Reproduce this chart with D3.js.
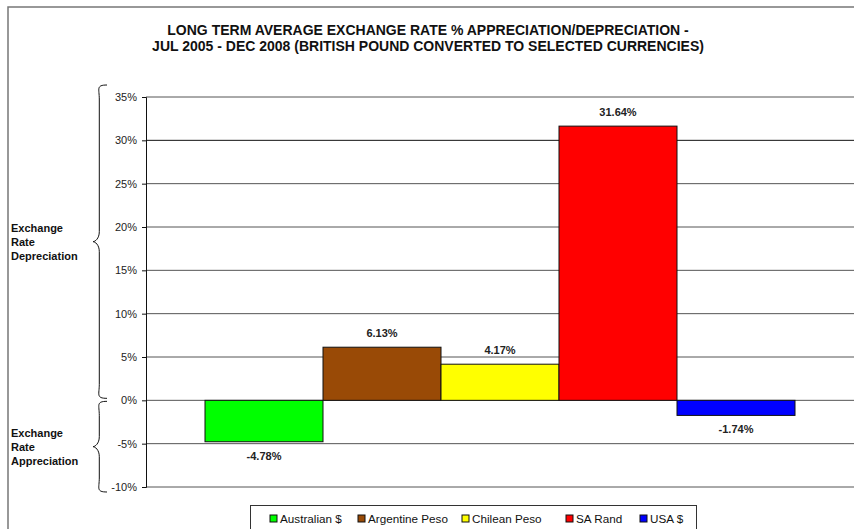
<!DOCTYPE html>
<html>
<head>
    <script src="https://d3js.org/d3.v7.min.js"></script>
</head>
<body style="margin: 0; padding: 0; background: #fff;">
    <div id="container"></div>
    <script>
        // Dados
        var currencies = ["Australian $", "Argentine Peso", "Chilean Peso", "SA Rand", "USA $"];
        var changes = [-4.78, 6.13, 4.17, 31.64, -1.74];
        var barColors = ["#00ff00", "#994a06", "#ffff00", "#ff0000", "#0000ff"];
        var yTicks = [-10, -5, 0, 5, 10, 15, 20, 25, 30, 35];
        var titleLines = [
            "LONG TERM AVERAGE EXCHANGE RATE % APPRECIATION/DEPRECIATION -",
            "JUL 2005 - DEC 2008 (BRITISH POUND CONVERTED TO SELECTED CURRENCIES)"
        ];
        var sideNotes = [
            { lines: ["Exchange", "Rate", "Depreciation"], from: 0, to: 35 },
            { lines: ["Exchange", "Rate", "Appreciation"], from: -10, to: 0 }
        ];

        var width = 854, height = 529;
        var font = "'Liberation Sans', Arial, sans-serif";

        var svg = d3.select("#container").append("svg")
            .attr("width", width)
            .attr("height", height)
            .style("font-family", font);

        // moldura externa (cortada na imagem)
        svg.append("rect")
            .attr("x", 8).attr("y", 7)
            .attr("width", 900).attr("height", 600)
            .attr("fill", "none")
            .attr("stroke", "#777")
            .attr("stroke-width", 1.5);

        var plot = { left: 146, right: 854, top: 97, bottom: 487 };

        var x = d3.scaleBand()
            .domain(currencies)
            .range([plot.left, plot.right])
            .paddingInner(0)
            .paddingOuter(0.5);

        var y = d3.scaleLinear()
            .domain([-10, 35])
            .range([plot.bottom, plot.top]);

        // titulo
        svg.append("g").selectAll("text")
            .data(titleLines)
            .enter().append("text")
            .attr("x", 428)
            .attr("y", (d, i) => 35 + i * 16)
            .attr("text-anchor", "middle")
            .style("font-size", "14px")
            .style("font-weight", "bold")
            .style("fill", "#111")
            .text(d => d);

        // linhas de grade
        svg.append("g").selectAll("line")
            .data(yTicks)
            .enter().append("line")
            .attr("x1", plot.left).attr("x2", plot.right)
            .attr("y1", d => y(d)).attr("y2", d => y(d))
            .attr("stroke", d => d === 30 ? "#111" : "#555")
            .attr("stroke-width", 1);

        // eixo y
        var yAxis = svg.append("g")
            .attr("transform", `translate(${plot.left},0)`)
            .call(d3.axisLeft(y).tickValues(yTicks).tickSize(4).tickPadding(5).tickFormat(d => d + "%"));
        yAxis.select(".domain").attr("stroke", "#111");
        yAxis.selectAll(".tick line").attr("stroke", "#111");
        yAxis.selectAll("text")
            .style("font-size", "11px")
            .style("font-family", font)
            .style("fill", "#222");

        // barras
        svg.append("g").selectAll("rect")
            .data(currencies)
            .enter().append("rect")
            .attr("x", d => x(d))
            .attr("width", x.bandwidth())
            .attr("y", (d, i) => y(Math.max(0, changes[i])))
            .attr("height", (d, i) => Math.abs(y(changes[i]) - y(0)))
            .attr("fill", (d, i) => barColors[i])
            .attr("stroke", "#111")
            .attr("stroke-width", 1);

        // rotulos das barras
        svg.append("g").selectAll("text")
            .data(currencies)
            .enter().append("text")
            .attr("x", d => x(d) + x.bandwidth() / 2)
            .attr("y", (d, i) => changes[i] >= 0 ? y(changes[i]) - 14 : y(changes[i]) + 14)
            .attr("dy", "0.35em")
            .attr("text-anchor", "middle")
            .style("font-size", "11px")
            .style("font-weight", "bold")
            .style("fill", "#222")
            .text((d, i) => changes[i].toFixed(2) + "%");

        // chaves laterais
        function brace(x0, ya, yb, depth) {
            var ym = (ya + yb) / 2;
            var xb = x0 - depth;
            return `M${x0},${ya} C${x0 - depth * 0.8},${ya} ${x0 - depth * 0.55},${ya + 4} ${x0 - depth * 0.55},${ya + 14}` +
                ` L${x0 - depth * 0.55},${ym - 10} C${x0 - depth * 0.55},${ym - 3} ${xb + 2},${ym} ${xb},${ym}` +
                ` C${xb + 2},${ym} ${x0 - depth * 0.55},${ym + 3} ${x0 - depth * 0.55},${ym + 10}` +
                ` L${x0 - depth * 0.55},${yb - 14} C${x0 - depth * 0.55},${yb - 4} ${x0 - depth * 0.8},${yb} ${x0},${yb}`;
        }

        var notes = svg.append("g");
        sideNotes.forEach(function (n) {
            var ya = y(n.to) - 12, yb = y(n.from) + 5;
            if (n.to === 0) ya = y(0) + 1;
            if (n.from === 0) yb = y(0) - 2;
            notes.append("path")
                .attr("d", brace(107, ya, yb, 14))
                .attr("fill", "none")
                .attr("stroke", "#111")
                .attr("stroke-width", 1);
            var ym = (ya + yb) / 2;
            notes.append("g").selectAll("text")
                .data(n.lines)
                .enter().append("text")
                .attr("x", 11)
                .attr("y", (d, i) => ym - 10 + i * 14)
                .style("font-size", "11px")
                .style("font-weight", "bold")
                .style("fill", "#111")
                .text(d => d);
        });

        // legenda
        var legend = svg.append("g");
        legend.append("rect")
            .attr("x", 250.5).attr("y", 505.5)
            .attr("width", 446).attr("height", 40)
            .attr("fill", "#fff")
            .attr("stroke", "#333");

        var legendX = [270, 358, 462, 566, 640];
        var item = legend.selectAll("g.item")
            .data(currencies)
            .enter().append("g")
            .attr("class", "item")
            .attr("transform", (d, i) => `translate(${legendX[i]},519)`);
        item.append("rect")
            .attr("x", 0).attr("y", -4)
            .attr("width", 7).attr("height", 7)
            .attr("fill", (d, i) => barColors[i])
            .attr("stroke", "#111");
        item.append("text")
            .attr("x", 10)
            .attr("y", 4)
            .style("font-size", "11.7px")
            .style("fill", "#111")
            .text(d => d);
    </script>
</body>
</html>
